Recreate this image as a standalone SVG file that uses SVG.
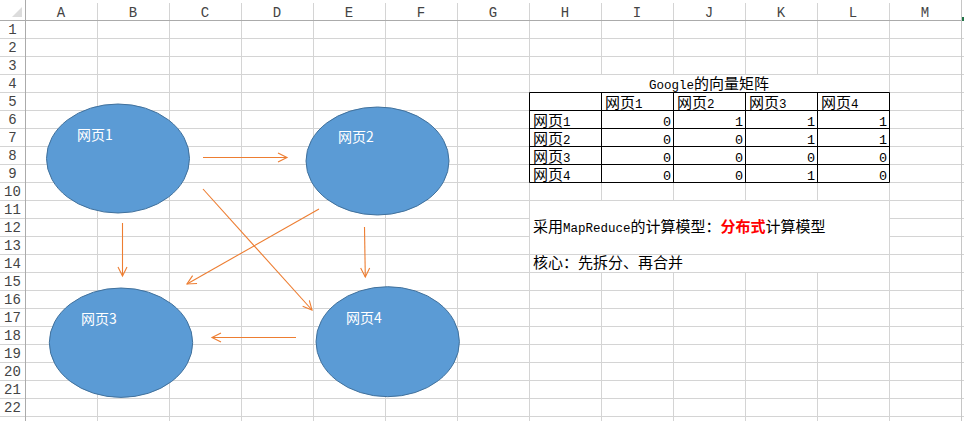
<svg xmlns="http://www.w3.org/2000/svg" width="964" height="421" viewBox="0 0 964 421">
<style>
.g{stroke:#d4d4d4;stroke-width:1;fill:none}
.hd{stroke:#ababab;stroke-width:1;fill:none}
.tb{stroke:#000;stroke-width:1;fill:none}
.h{font-family:"Liberation Mono",monospace;font-size:14px;fill:#444;text-anchor:middle}
.c{font-family:"Noto Sans CJK SC",sans-serif;font-size:15px}
.m{font-family:"Liberation Mono",monospace;font-size:12.5px}
.t{fill:#000}
.n{font-family:"Liberation Mono",monospace;font-size:13.5px;fill:#000;text-anchor:end}
.red{fill:#ff0000;font-weight:bold}
.node ellipse{fill:#5b9bd5;stroke:#41719c;stroke-width:1}
.node text{font-family:"Noto Sans CJK SC",sans-serif;font-size:14px;fill:#fff}
.arr{stroke:#ed7d31;stroke-width:1.1;fill:none;marker-end:url(#ah)}
</style>
<defs>
<marker id="ah" viewBox="-10 -6 12 12" refX="0" refY="0" markerWidth="12" markerHeight="12" markerUnits="userSpaceOnUse" orient="auto">
<path d="M-9,-4.5 L0,0 L-9,4.5" fill="none" stroke="#ed7d31" stroke-width="1.1"/>
</marker>
</defs>
<rect x="0" y="0" width="964" height="421" fill="#fff"/>
<g id="grid">
<path class="g" d="M97.5 3V421M169.5 3V421M241.5 3V421M313.5 3V421M385.5 3V421M457.5 3V421M529.5 3V421M889.5 3V421M601.5 3V74M673.5 3V74M745.5 3V74M817.5 3V74M601.5 182V200M673.5 182V200M745.5 182V200M817.5 182V200M601.5 272V421M673.5 272V421M745.5 272V421M817.5 272V421"/>
<path class="g" d="M0 38.5H964M0 56.5H964M0 74.5H964M0 92.5H964M0 110.5H964M0 128.5H964M0 146.5H964M0 164.5H964M0 182.5H964M0 200.5H964M0 218.5H529.5M889.5 218.5H964M0 236.5H529.5M889.5 236.5H964M0 254.5H964M0 272.5H964M0 290.5H964M0 308.5H964M0 326.5H964M0 344.5H964M0 362.5H964M0 380.5H964M0 398.5H964M0 416.5H964"/>
<path class="hd" d="M0 20.5H964M25.5 0V421"/>
<path d="M961.5 0V421" stroke="#c6c6c6" stroke-width="1"/>
<rect x="962" y="17" width="2" height="4" fill="#217346"/>
<path d="M22 7L22 17L12 17Z" fill="#dcdcdc"/>
</g>
<g id="headers">
<text class="h" x="61" y="17">A</text>
<text class="h" x="133" y="17">B</text>
<text class="h" x="205" y="17">C</text>
<text class="h" x="277" y="17">D</text>
<text class="h" x="349" y="17">E</text>
<text class="h" x="421" y="17">F</text>
<text class="h" x="493" y="17">G</text>
<text class="h" x="565" y="17">H</text>
<text class="h" x="637" y="17">I</text>
<text class="h" x="709" y="17">J</text>
<text class="h" x="781" y="17">K</text>
<text class="h" x="853" y="17">L</text>
<text class="h" x="925" y="17">M</text>
<text class="h" x="12.5" y="34">1</text>
<text class="h" x="12.5" y="52">2</text>
<text class="h" x="12.5" y="70">3</text>
<text class="h" x="12.5" y="88">4</text>
<text class="h" x="12.5" y="106">5</text>
<text class="h" x="12.5" y="124">6</text>
<text class="h" x="12.5" y="142">7</text>
<text class="h" x="12.5" y="160">8</text>
<text class="h" x="12.5" y="178">9</text>
<text class="h" x="12.5" y="196">10</text>
<text class="h" x="12.5" y="214">11</text>
<text class="h" x="12.5" y="232">12</text>
<text class="h" x="12.5" y="250">13</text>
<text class="h" x="12.5" y="268">14</text>
<text class="h" x="12.5" y="286">15</text>
<text class="h" x="12.5" y="304">16</text>
<text class="h" x="12.5" y="322">17</text>
<text class="h" x="12.5" y="340">18</text>
<text class="h" x="12.5" y="358">19</text>
<text class="h" x="12.5" y="376">20</text>
<text class="h" x="12.5" y="394">21</text>
<text class="h" x="12.5" y="412">22</text>
</g>
<g id="matrix">
<text class="t" x="709" y="89" text-anchor="middle"><tspan class="m">Google</tspan><tspan class="c">的向量矩阵</tspan></text>
<path class="tb" d="M529.5 92.5H889.5V182.5H529.5ZM529.5 110.5H889.5M529.5 128.5H889.5M529.5 146.5H889.5M529.5 164.5H889.5M601.5 92.5V182.5M673.5 92.5V182.5M745.5 92.5V182.5M817.5 92.5V182.5"/>
<text class="t" x="605" y="108"><tspan class="c">网页</tspan><tspan class="m">1</tspan></text>
<text class="t" x="677" y="108"><tspan class="c">网页</tspan><tspan class="m">2</tspan></text>
<text class="t" x="749" y="108"><tspan class="c">网页</tspan><tspan class="m">3</tspan></text>
<text class="t" x="821" y="108"><tspan class="c">网页</tspan><tspan class="m">4</tspan></text>
<text class="t" x="533" y="126"><tspan class="c">网页</tspan><tspan class="m">1</tspan></text>
<text class="t" x="533" y="144"><tspan class="c">网页</tspan><tspan class="m">2</tspan></text>
<text class="t" x="533" y="162"><tspan class="c">网页</tspan><tspan class="m">3</tspan></text>
<text class="t" x="533" y="180"><tspan class="c">网页</tspan><tspan class="m">4</tspan></text>
<text class="n" x="671" y="126">0</text><text class="n" x="743" y="126">1</text><text class="n" x="815" y="126">1</text><text class="n" x="887" y="126">1</text>
<text class="n" x="671" y="144">0</text><text class="n" x="743" y="144">0</text><text class="n" x="815" y="144">1</text><text class="n" x="887" y="144">1</text>
<text class="n" x="671" y="162">0</text><text class="n" x="743" y="162">0</text><text class="n" x="815" y="162">0</text><text class="n" x="887" y="162">0</text>
<text class="n" x="671" y="180">0</text><text class="n" x="743" y="180">0</text><text class="n" x="815" y="180">1</text><text class="n" x="887" y="180">0</text>
</g>
<g id="notes">
<text class="t" x="533" y="232"><tspan class="c">采用</tspan><tspan class="m">MapReduce</tspan><tspan class="c">的计算模型：</tspan><tspan class="c red">分布式</tspan><tspan class="c">计算模型</tspan></text>
<text class="t c" x="533" y="268">核心：先拆分、再合并</text>
</g>
<g id="node1" class="node"><ellipse cx="118" cy="158.5" rx="71.5" ry="54.5"/><text x="77" y="140">网页1</text></g>
<g id="node2" class="node"><ellipse cx="377.5" cy="161" rx="71.5" ry="54"/><text x="338" y="142">网页2</text></g>
<g id="node3" class="node"><ellipse cx="121" cy="342.7" rx="71.7" ry="54.7"/><text x="81" y="324">网页3</text></g>
<g id="node4" class="node"><ellipse cx="387.7" cy="341.7" rx="71.7" ry="55"/><text x="346" y="323">网页4</text></g>
<g id="connectors">
<path class="arr" d="M203 157.5L287 157.5"/>
<path class="arr" d="M203 189L312 310"/>
<path class="arr" d="M319 209L187 284"/>
<path class="arr" d="M122.5 223L122.5 276"/>
<path class="arr" d="M364.5 227L365.3 277"/>
<path class="arr" d="M296 337.5L212 337.5"/>
</g>
</svg>
